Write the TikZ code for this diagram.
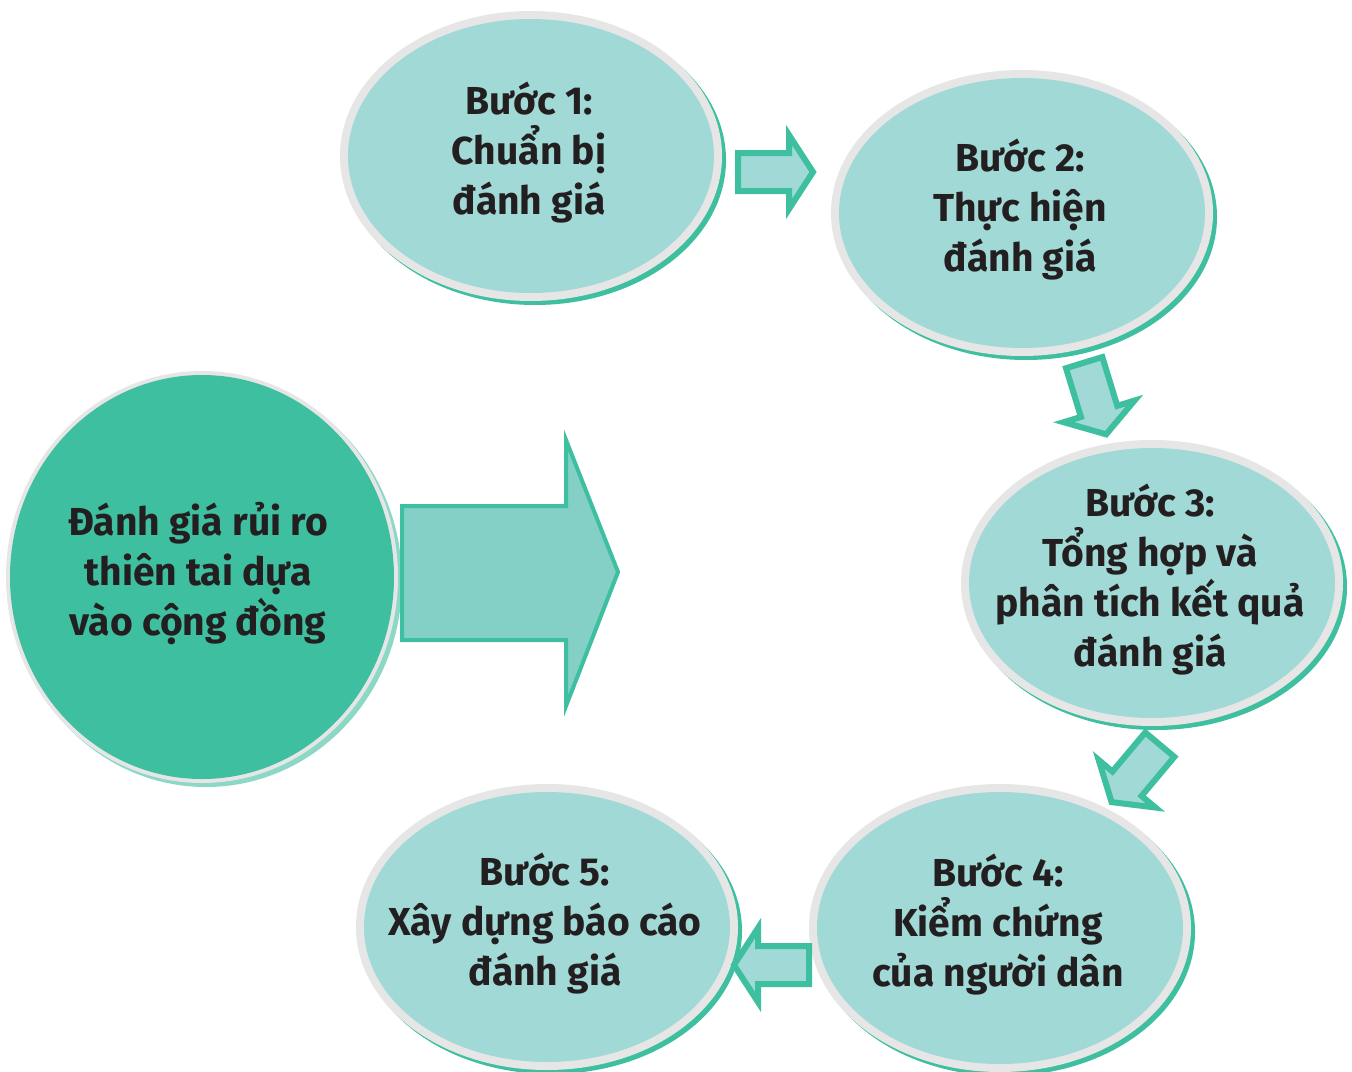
\documentclass[tikz,border=0pt]{standalone}
\usepackage{fontspec}
\setmainfont{Fira Sans}
\usetikzlibrary{shapes.geometric}
\definecolor{lightteal}{HTML}{A0D9D6}
\definecolor{ringgreen}{HTML}{3DBFA0}
\definecolor{ringgrey}{HTML}{E6E6E6}
\definecolor{bigfill}{HTML}{84D0C6}
\definecolor{txt}{HTML}{231F20}
\newcommand\Bubble[7]{%
  \fill[ringgreen] (#2+4,#3+4) ellipse [x radius=#4pt+8pt, y radius=#5pt+8pt];
  \fill[ringgrey] (#2,#3) ellipse [x radius=#4pt+8pt, y radius=#5pt+8pt];
  \fill[#6] (#2,#3) ellipse [x radius=#4pt, y radius=#5pt];
  \node[steptext] (#1) at (#2-2,#3-3) {#7};
}
\begin{document}
\begin{tikzpicture}[x=1pt,y=-1pt,
  steptext/.style={inner sep=0pt, font=\fontsize{39}{50}\selectfont\bfseries, text=txt, align=center},
  sarrow/.pic={\filldraw[ringgreen, fill=lightteal, line width=6pt, line join=miter]
     (-37,-19) -- (14,-19) -- (14,-37) -- (38,0) -- (14,37) -- (14,19) -- (-37,19) -- cycle;}
  ]
\useasboundingbox (0,0) rectangle (1352,1071);
\fill[white] (0,0) rectangle (1352,1071);

% main bubble
\fill[ringgreen!60] (206,581) ellipse [x radius=196pt, y radius=206pt];
\fill[ringgrey] (202,577) ellipse [x radius=196pt, y radius=206pt];
\fill[ringgreen] (202,577) ellipse [x radius=192pt, y radius=202pt];
\node[steptext] (main) at (198,574) {Đánh giá rủi ro\\thiên tai dựa\\vào cộng đồng};

% big arrow
\filldraw[ringgreen, fill=bigfill, line width=4pt, line join=miter]
  (402,506) -- (566,506) -- (566,440) -- (618,572) -- (566,706) -- (566,640) -- (402,640) -- cycle;

\Bubble{s1}{531}{156}{183}{137}{lightteal}{Bước 1:\\Chuẩn bị\\đánh giá}
\Bubble{s2}{1022}{213}{183}{135}{lightteal}{Bước 2:\\Thực hiện\\đánh giá}
\Bubble{s3}{1152}{583}{183}{135}{lightteal}{Bước 3:\\Tổng hợp và\\phân tích kết quả\\đánh giá}
\Bubble{s4}{1000}{928}{183}{136}{lightteal}{Bước 4:\\Kiểm chứng\\của người dân}
\Bubble{s5}{547}{927}{183}{135}{lightteal}{Bước 5:\\Xây dựng báo cáo\\đánh giá}

\pic at (775,172) {sarrow};
\pic[rotate=-73] at (1095,398) {sarrow};
\pic[rotate=-130] at (1136,773) {sarrow};
\pic[rotate=180] at (772,965) {sarrow};
\end{tikzpicture}
\end{document}
